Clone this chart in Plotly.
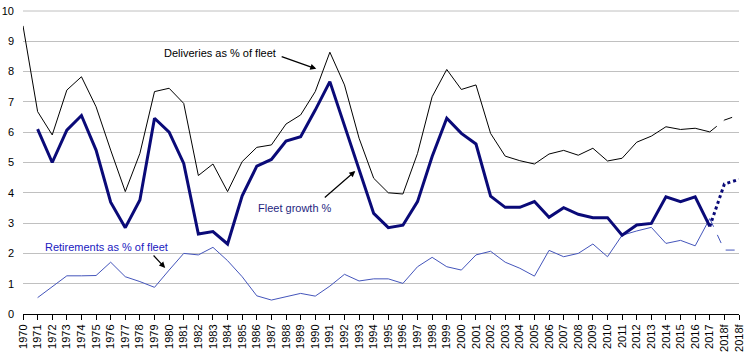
import plotly.graph_objects as go

# ---- data ----
year_labels = [str(y) for y in range(1970, 2018)] + ["2018f", "2018f"]

deliveries = [9.51, 6.68, 5.91, 7.39, 7.83, 6.84, 5.41, 4.04, 5.30, 7.34,
              7.45, 6.95, 4.57, 4.95, 4.04, 5.03, 5.50, 5.58, 6.27, 6.57,
              7.34, 8.64, 7.56, 5.80, 4.48, 4.00, 3.96, 5.30, 7.17, 8.07,
              7.41, 7.56, 5.96, 5.21, 5.06, 4.95, 5.28, 5.40, 5.24, 5.47,
              5.05, 5.14, 5.67, 5.87, 6.18, 6.09, 6.13, 6.01]
deliveries_fc = [6.40, 6.57]

fleet_growth = [None, 6.10, 5.00, 6.07, 6.55, 5.41, 3.69, 2.85, 3.76, 6.46,
                6.00, 4.97, 2.64, 2.72, 2.31, 3.90, 4.88, 5.10, 5.71, 5.85,
                6.73, 7.67, 6.22, 4.77, 3.32, 2.85, 2.93, 3.71, 5.20, 6.46,
                5.96, 5.61, 3.89, 3.52, 3.52, 3.71, 3.19, 3.51, 3.29, 3.18,
                3.18, 2.60, 2.94, 2.99, 3.87, 3.71, 3.87, 2.89]
fleet_growth_fc = [4.29, 4.44]

retirements = [None, 0.54, 0.90, 1.26, 1.26, 1.27, 1.71, 1.23, 1.07, 0.88,
               1.45, 2.00, 1.95, 2.20, 1.76, 1.23, 0.60, 0.46, 0.57, 0.68,
               0.59, 0.92, 1.31, 1.09, 1.16, 1.16, 1.01, 1.56, 1.87, 1.56,
               1.45, 1.95, 2.07, 1.71, 1.51, 1.25, 2.10, 1.89, 2.00, 2.31,
               1.89, 2.60, 2.74, 2.86, 2.33, 2.43, 2.25, 3.15]
retirements_fc = [2.11, 2.11]

y_ticks = list(range(0, 11))

# ---- figure ----
FONT = "Liberation Sans, Arial, sans-serif"
n_hist = len(deliveries)
n_all = len(year_labels)
x_hist = list(range(n_hist))
x_fc = list(range(n_hist - 1, n_hist + len(deliveries_fc)))

C_DEL = "#000000"
C_FG = "#0a0a78"
C_RET = "#4455bb"
C_GRID = "#c0c0c0"

fig = go.Figure()
fig.add_trace(go.Scatter(x=x_hist, y=deliveries, mode="lines",
                         line=dict(color=C_DEL, width=1), hoverinfo="skip"))
fig.add_trace(go.Scatter(x=x_fc, y=[deliveries[-1]] + deliveries_fc, mode="lines",
                         line=dict(color=C_DEL, width=1, dash="dash"), hoverinfo="skip"))
fig.add_trace(go.Scatter(x=x_hist, y=retirements, mode="lines",
                         line=dict(color=C_RET, width=1), hoverinfo="skip"))
fig.add_trace(go.Scatter(x=x_fc, y=[retirements[-1]] + retirements_fc, mode="lines",
                         line=dict(color=C_RET, width=1, dash="dash"), hoverinfo="skip"))
fig.add_trace(go.Scatter(x=x_hist, y=fleet_growth, mode="lines",
                         line=dict(color=C_FG, width=3), hoverinfo="skip"))
fig.add_trace(go.Scatter(x=x_fc, y=[fleet_growth[-1]] + fleet_growth_fc, mode="lines",
                         line=dict(color=C_FG, width=3, dash="dot"), hoverinfo="skip"))

annotations = [
    dict(x=9.52, y=8.61, text="Deliveries as % of fleet", showarrow=False,
         xanchor="left", yanchor="middle", font=dict(color="#000000", size=11, family=FONT)),
    dict(x=20.07, y=8.09, ax=17.6, ay=8.51, text="", showarrow=True,
         axref="x", ayref="y", arrowhead=2, arrowsize=1, arrowwidth=1.2, arrowcolor="#000000"),
    dict(x=15.96, y=3.5, text="Fleet growth %", showarrow=False,
         xanchor="left", yanchor="middle", font=dict(color="#1f1f80", size=11, family=FONT)),
    dict(x=22.74, y=4.72, ax=20.55, ay=3.80, text="", showarrow=True,
         axref="x", ayref="y", arrowhead=2, arrowsize=1, arrowwidth=1.2, arrowcolor="#000000"),
    dict(x=1.37, y=2.22, text="Retirements as % of fleet", showarrow=False,
         xanchor="left", yanchor="middle", font=dict(color="#2020c0", size=11, family=FONT)),
    dict(x=9.73, y=1.52, ax=8.84, ay=1.98, text="", showarrow=True,
         axref="x", ayref="y", arrowhead=2, arrowsize=1, arrowwidth=1.2, arrowcolor="#000000"),
]

fig.update_layout(
    width=752, height=355,
    margin=dict(l=23, r=13, t=11, b=41, autoexpand=False),
    paper_bgcolor="white", plot_bgcolor="white",
    showlegend=False,
    font=dict(family=FONT, size=11, color="#000000"),
    annotations=annotations,
    # top gridline on the plot edge (unclipped paper shape)
    shapes=[dict(type="line", xref="paper", yref="paper", x0=0, x1=1,
                 y0=1, y1=1, layer="above",
                 line=dict(color=C_GRID, width=1))],
)
fig.update_xaxes(
    automargin=False,
    range=[0, n_all - 1],
    tickmode="array", tickvals=list(range(n_all)), ticktext=year_labels,
    tickangle=-90, ticks="outside", ticklen=5, tickcolor="#000000", tickwidth=1,
    showline=True, linecolor="#000000", linewidth=1,
    showgrid=False, zeroline=False,
    tickfont=dict(size=11, family=FONT, color="#000000"),
)
fig.update_yaxes(
    automargin=False,
    range=[0, 10], tickmode="array", tickvals=y_ticks,
    showgrid=True, gridcolor=C_GRID, gridwidth=1,
    zeroline=False, showline=False, ticks="",
    ticklabelstandoff=8,
    tickfont=dict(size=11, family=FONT, color="#000000"),
)

# remove the default page margin so the figure fills the window exactly
fig.write_html("out.html",
               config={"displayModeBar": False, "staticPlot": True},
               post_script="document.body.style.margin='0px';document.body.style.overflow='hidden';")
